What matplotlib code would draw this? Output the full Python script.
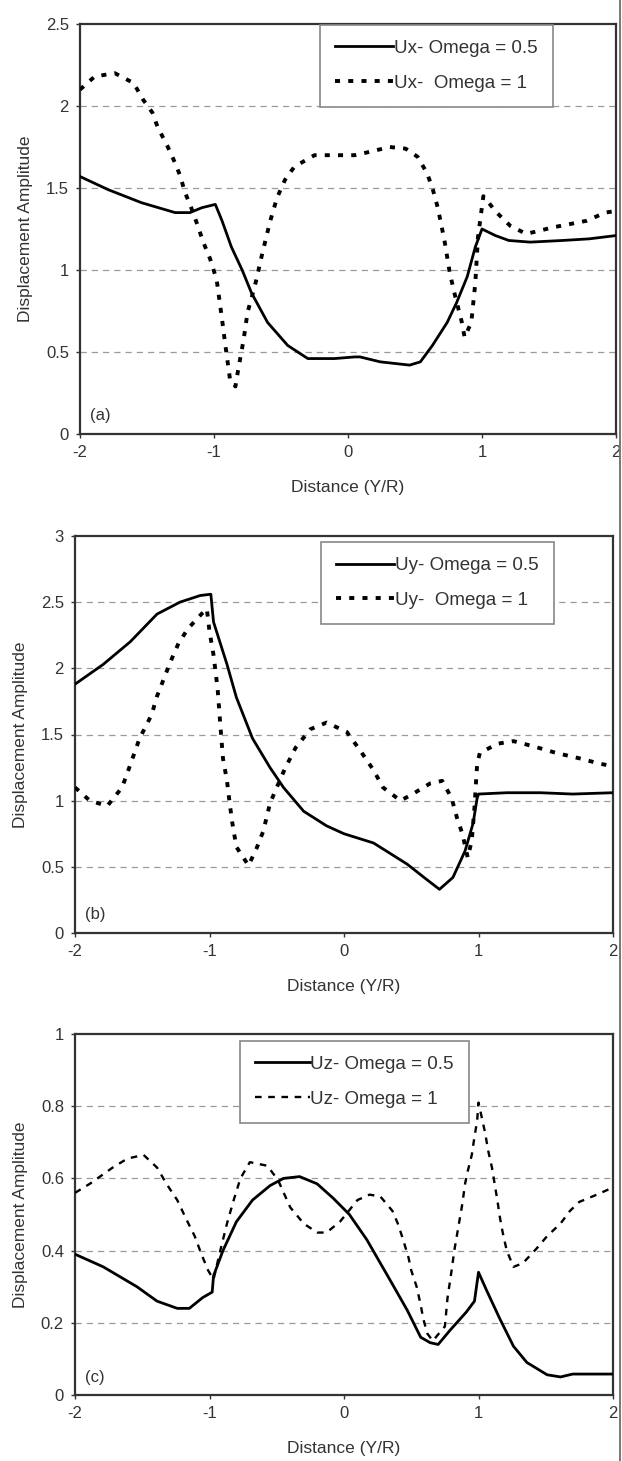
import matplotlib
matplotlib.use("Agg")
import matplotlib.pyplot as plt
from matplotlib.lines import Line2D

plt.rcParams['font.family'] = ['Liberation Sans', 'DejaVu Sans']
plt.rcParams['axes.unicode_minus'] = False

# (a) Ux
ux05_x = [-2, -1.79, -1.54, -1.29, -1.18, -1.09, -0.99, -0.94, -0.87, -0.79, -0.72, -0.6, -0.45, -0.3,
          -0.1, 0.05, 0.09, 0.24, 0.46, 0.54, 0.63, 0.74, 0.81, 0.89, 0.95, 1.0, 1.1, 1.2, 1.36, 1.6, 1.8, 2.0]
ux05_y = [1.57, 1.49, 1.41, 1.35, 1.35, 1.38, 1.40, 1.30, 1.14, 1.0, 0.86, 0.68, 0.54, 0.46,
          0.46, 0.47, 0.47, 0.44, 0.42, 0.44, 0.54, 0.68, 0.80, 0.96, 1.14, 1.25, 1.21, 1.18, 1.17, 1.18, 1.19, 1.21]
ux1_x = [-2, -1.89, -1.74, -1.6, -1.53, -1.46, -1.42, -1.35, -1.3, -1.25, -1.22, -1.17, -1.13, -1.08, -1.03,
         -0.98, -0.96, -0.94, -0.92, -0.9, -0.88, -0.84, -0.82, -0.78, -0.75, -0.69, -0.64, -0.58, -0.53,
         -0.47, -0.4, -0.25, 0.05, 0.16, 0.31, 0.43, 0.52, 0.59, 0.63, 0.67, 0.72, 0.76, 0.8, 0.85, 0.87,
         0.92, 0.95, 0.97, 1.01, 1.11, 1.21, 1.33, 1.53, 1.78, 1.92, 2.0]
ux1_y = [2.10, 2.18, 2.20, 2.14, 2.04, 1.96, 1.87, 1.76, 1.67, 1.57, 1.48, 1.38, 1.29, 1.17, 1.07,
         0.94, 0.82, 0.70, 0.57, 0.45, 0.33, 0.29, 0.39, 0.57, 0.74, 0.92, 1.10, 1.30, 1.44,
         1.55, 1.63, 1.70, 1.70, 1.72, 1.75, 1.74, 1.69, 1.59, 1.50, 1.38, 1.18, 0.98, 0.84, 0.68, 0.59,
         0.68, 0.92, 1.20, 1.45, 1.35, 1.27, 1.22, 1.26, 1.30, 1.35, 1.36]

# (b) Uy
uy05_x = [-2, -1.79, -1.59, -1.39, -1.22, -1.07, -0.99, -0.97, -0.87, -0.8, -0.68, -0.55, -0.45, -0.3,
          -0.13, 0.0, 0.22, 0.47, 0.62, 0.71, 0.81, 0.9, 0.96, 0.99, 1.0, 1.21, 1.46, 1.7, 2.0]
uy05_y = [1.88, 2.03, 2.20, 2.41, 2.50, 2.55, 2.56, 2.35, 2.03, 1.78, 1.47, 1.25, 1.10, 0.92,
          0.81, 0.75, 0.68, 0.52, 0.40, 0.33, 0.42, 0.62, 0.83, 1.02, 1.05, 1.06, 1.06, 1.05, 1.06]
uy1_x = [-2, -1.89, -1.76, -1.65, -1.6, -1.52, -1.43, -1.39, -1.29, -1.23, -1.16, -1.06, -1.02, -1.0,
         -0.97, -0.94, -0.92, -0.9, -0.87, -0.85, -0.83, -0.8, -0.71, -0.65, -0.6, -0.55, -0.5, -0.44,
         -0.36, -0.25, -0.13, 0.02, 0.12, 0.22, 0.29, 0.42, 0.51, 0.64, 0.73, 0.8, 0.84, 0.88, 0.92,
         0.95, 0.97, 0.99, 1.01, 1.14, 1.26, 1.41, 1.58, 1.75, 1.9, 2.0]
uy1_y = [1.10, 1.00, 0.96, 1.10, 1.24, 1.47, 1.65, 1.79, 2.05, 2.19, 2.30, 2.41, 2.45, 2.28,
         2.10, 1.85, 1.58, 1.32, 1.15, 0.98, 0.83, 0.65, 0.51, 0.64, 0.77, 0.98, 1.10, 1.24,
         1.40, 1.54, 1.59, 1.52, 1.38, 1.23, 1.10, 1.00, 1.05, 1.13, 1.15, 1.02, 0.87, 0.75, 0.57,
         0.70, 0.95, 1.28, 1.36, 1.43, 1.45, 1.41, 1.36, 1.32, 1.28, 1.26]

# (c) Uz
uz05_x = [-2, -1.79, -1.54, -1.39, -1.24, -1.15, -1.05, -0.98, -0.97, -0.9, -0.8, -0.68, -0.55, -0.45,
          -0.33, -0.2, -0.08, 0.04, 0.17, 0.34, 0.47, 0.57, 0.64, 0.7, 0.79, 0.91, 0.97, 1.0, 1.06,
          1.16, 1.26, 1.36, 1.51, 1.61, 1.7, 2.0]
uz05_y = [0.39, 0.355, 0.30, 0.26, 0.24, 0.24, 0.27, 0.285, 0.33, 0.40, 0.48, 0.54, 0.58, 0.60,
          0.605, 0.585, 0.545, 0.50, 0.43, 0.32, 0.235, 0.16, 0.145, 0.14, 0.18, 0.23, 0.26, 0.34, 0.29,
          0.21, 0.135, 0.09, 0.056, 0.05, 0.058, 0.058]
uz1_x = [-2, -1.89, -1.72, -1.61, -1.49, -1.39, -1.32, -1.24, -1.17, -1.11, -1.06, -1.01, -0.97,
         -0.92, -0.87, -0.82, -0.77, -0.7, -0.57, -0.49, -0.4, -0.3, -0.2, -0.13, -0.03, 0.1, 0.19,
         0.27, 0.36, 0.4, 0.44, 0.48, 0.5, 0.54, 0.57, 0.59, 0.62, 0.66, 0.75, 0.77, 0.8, 0.82, 0.85,
         0.88, 0.9, 0.92, 0.95, 0.97, 0.99, 1.0, 1.05, 1.07, 1.1, 1.12, 1.14, 1.16, 1.18, 1.21, 1.26,
         1.33, 1.43, 1.51, 1.61, 1.68, 1.75, 1.88, 2.0]
uz1_y = [0.56, 0.585, 0.63, 0.655, 0.665, 0.63, 0.585, 0.54, 0.485, 0.44, 0.39, 0.345, 0.32,
         0.40, 0.475, 0.54, 0.60, 0.645, 0.635, 0.595, 0.52, 0.475, 0.45, 0.45, 0.48, 0.54, 0.555,
         0.55, 0.51, 0.475, 0.43, 0.38, 0.345, 0.30, 0.25, 0.21, 0.17, 0.15, 0.19, 0.27, 0.345, 0.40,
         0.465, 0.53, 0.585, 0.62, 0.665, 0.715, 0.76, 0.81, 0.725, 0.68, 0.63, 0.585, 0.54, 0.49,
         0.45, 0.40, 0.355, 0.365, 0.405, 0.44, 0.475, 0.51, 0.535, 0.555, 0.575]

panels = [
    dict(pos=[80, 24, 616, 434], xs=(ux05_x, ux1_x), ys=(ux05_y, ux1_y), ymax=2.5, step=0.5,
         labels=("Ux- Omega = 0.5", "Ux-  Omega = 1"), tag="(a)", leg=(0.448, 0.998),
         dot=(1.3, 2.1), lwd=2.8, hl=3.1),
    dict(pos=[75, 536, 613, 933], xs=(uy05_x, uy1_x), ys=(uy05_y, uy1_y), ymax=3, step=0.5,
         labels=("Uy- Omega = 0.5", "Uy-  Omega = 1"), tag="(b)", leg=(0.457, 0.985),
         dot=(1.3, 2.1), lwd=2.8, hl=3.1),
    dict(pos=[75, 1034, 613, 1395], xs=(uz05_x, uz1_x), ys=(uz05_y, uz1_y), ymax=1, step=0.2,
         labels=("Uz- Omega = 0.5", "Uz- Omega = 1"), tag="(c)", leg=(0.307, 0.981),
         dot=(2.8, 2.8), lwd=1.7, hl=2.9),
]

W, H = 622, 1461
fig = plt.figure(figsize=(W / 100, H / 100), dpi=100)

for p in panels:
    x0, y0, x1, y1 = p['pos']
    ax = fig.add_axes([x0 / W, 1 - y1 / H, (x1 - x0) / W, (y1 - y0) / H])
    ax.plot(p['xs'][0], p['ys'][0], color='black', lw=2.0, label=p['labels'][0], zorder=3)
    ax.plot(p['xs'][1], p['ys'][1], color='black', lw=p['lwd'], linestyle=(0, p['dot']),
            label=p['labels'][1], zorder=3)
    ax.set_xlim(-2, 2)
    ax.set_ylim(0, p['ymax'])
    ax.set_xticks([-2, -1, 0, 1, 2])
    n = int(round(p['ymax'] / p['step']))
    yt = [round(i * p['step'], 2) for i in range(n + 1)]
    ax.set_yticks(yt)
    ax.set_yticklabels([('%g' % v) for v in yt])
    for v in yt[1:-1]:
        ax.axhline(v, color='#9a9a9a', lw=0.9, linestyle=(0, (5, 4)), zorder=1)
    for s in ax.spines.values():
        s.set_color('#333333')
        s.set_linewidth(1.6)
    ax.tick_params(direction='out', length=3, width=1, labelsize=12, colors='#333333', pad=5)
    ax.set_xlabel("Distance (Y/R)", fontsize=12.5, color='#333333', labelpad=14.5)
    ax.set_ylabel("Displacement Amplitude", fontsize=12.5, color='#333333', labelpad=9.5)
    ax.text(0.018, 0.035, p['tag'], transform=ax.transAxes, fontsize=12, color='#333333')
    leg = ax.legend(loc='upper left', bbox_to_anchor=p['leg'], fontsize=13.5, handlelength=p['hl'],
                    handletextpad=0.05, labelspacing=0.95, borderpad=0.8, borderaxespad=0,
                    fancybox=False, framealpha=1, edgecolor='#888888')
    leg.get_frame().set_linewidth(1.2)
    for t in leg.get_texts():
        t.set_color('#333333')

fig.add_artist(Line2D([619.5 / W, 619.5 / W], [0, 1], color='#777777', lw=1.4, transform=fig.transFigure))

fig.savefig("out.png", dpi=100)
